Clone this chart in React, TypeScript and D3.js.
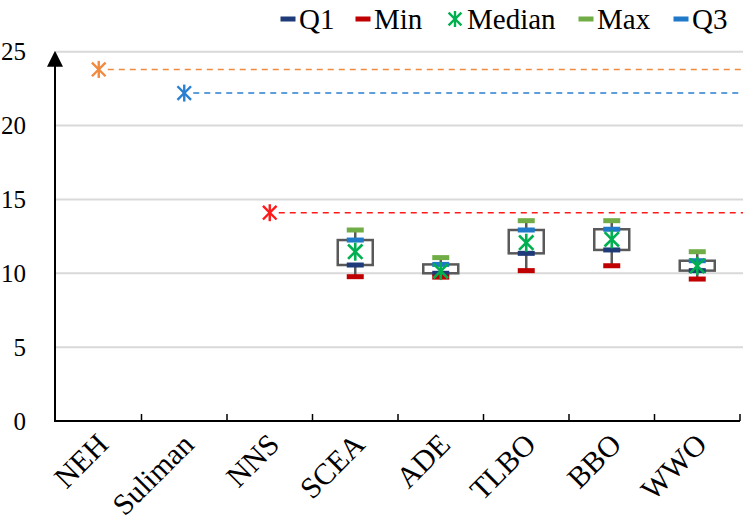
import React from "react";
import * as d3 from "d3";

const categories = ["NEH", "Suliman", "NNS", "SCEA", "ADE", "TLBO", "BBO", "WWO"];
// single-value heuristics
const singleNames = ["NEH", "Suliman", "NNS"];
const singleValues = [23.8, 22.2, 14.1];
const singleColors = ["#F08A3E", "#2A7FD0", "#FF1A1A"];
// box plot series
const boxNames = ["SCEA", "ADE", "TLBO", "BBO", "WWO"];
const minVals = [9.77, 9.74, 10.18, 10.51, 9.61];
const q1Vals = [10.56, 10.0, 11.35, 11.58, 10.18];
const medianVals = [11.46, 10.15, 12.07, 12.3, 10.5];
const q3Vals = [12.25, 10.6, 12.93, 12.98, 10.85];
const maxVals = [12.93, 11.06, 13.56, 13.56, 11.46];
const yTicks = [0, 5, 10, 15, 20, 25];

const legendItems = [
  { label: "Q1", color: "#1F3A78", kind: "dash" },
  { label: "Min", color: "#C00000", kind: "dash" },
  { label: "Median", color: "#00B050", kind: "star" },
  { label: "Max", color: "#70AD47", kind: "dash" },
  { label: "Q3", color: "#1F78C8", kind: "dash" },
];

const COL = { q1: "#1F3A78", min: "#C00000", med: "#00B050", max: "#70AD47", q3: "#1F78C8", box: "#595959" };
const FONT = "Liberation Serif, Times New Roman, serif";

function Star({ x, y, r, color, w = 2.2 }: { x: number; y: number; r: number; color: string; w?: number }) {
  const d = r * 0.8;
  return (
    <g stroke={color} strokeWidth={w}>
      <line x1={x - d} y1={y - d} x2={x + d} y2={y + d} />
      <line x1={x - d} y1={y + d} x2={x + d} y2={y - d} />
      <line x1={x} y1={y - r} x2={x} y2={y + r} />
    </g>
  );
}

function Dash({ x, y, color, w = 17, h = 5 }: { x: number; y: number; color: string; w?: number; h?: number }) {
  return <rect x={x - w / 2} y={y - h / 2} width={w} height={h} fill={color} />;
}

export default function App() {
  const W = 743, H = 528;
  const x0 = 56, x1 = 740;
  const x = d3.scaleBand<string>().domain(categories).range([x0, x1]).padding(0);
  const y = d3.scaleLinear().domain([0, 25]).range([421, 51.7]);
  const cx = (c: string) => (x(c) as number) + x.bandwidth() / 2;
  const boxW = 35;

  return (
    <svg width={W} height={H} style={{ position: "absolute", left: 0, top: 0, background: "#fff", fontFamily: FONT }}>
      {/* gridlines */}
      {yTicks.filter((t) => t > 0).map((t) => (
        <line key={t} x1={x0} x2={W} y1={y(t)} y2={y(t)} stroke="#D9D9D9" strokeWidth={2} />
      ))}
      {/* y tick labels */}
      {yTicks.map((t) => (
        <text key={t} x={26} y={y(t)} textAnchor="end" dominantBaseline="central" fontSize={25} fill="#000" style={{ fontFamily: FONT }}>
          {t}
        </text>
      ))}
      {/* dashed reference lines + stars */}
      {singleNames.map((n, i) => (
        <g key={n}>
          <line x1={cx(n) + 9} x2={W} y1={y(singleValues[i])} y2={y(singleValues[i])} stroke={singleColors[i]} strokeWidth={1.6} strokeDasharray="6,5" />
          <Star x={cx(n)} y={y(singleValues[i])} r={8.5} color={singleColors[i]} w={2.4} />
        </g>
      ))}
      {/* boxes */}
      {boxNames.map((n, i) => {
        const c = cx(n);
        return (
          <g key={n}>
            <line x1={c} x2={c} y1={y(maxVals[i])} y2={y(q3Vals[i])} stroke={COL.box} strokeWidth={2.5} />
            <line x1={c} x2={c} y1={y(q1Vals[i])} y2={y(minVals[i])} stroke={COL.box} strokeWidth={2.5} />
            <rect x={c - boxW / 2} y={y(q3Vals[i])} width={boxW} height={y(q1Vals[i]) - y(q3Vals[i])} fill="#fff" stroke={COL.box} strokeWidth={2.5} />
            <Dash x={c} y={y(q1Vals[i])} color={COL.q1} />
            <Dash x={c} y={y(minVals[i])} color={COL.min} />
            <Dash x={c} y={y(maxVals[i])} color={COL.max} />
            <Dash x={c} y={y(q3Vals[i])} color={COL.q3} />
            <Star x={c} y={y(medianVals[i])} r={9} color={COL.med} w={2.6} />
          </g>
        );
      })}
      {/* x axis */}
      <line x1={x0 - 1} x2={x1} y1={y(0)} y2={y(0)} stroke="#000" strokeWidth={2} />
      {categories.map((c) => (
        <line key={c} x1={(x(c) as number) + x.bandwidth()} x2={(x(c) as number) + x.bandwidth()} y1={y(0)} y2={y(0) - 7} stroke="#000" strokeWidth={1.5} />
      ))}
      {/* y axis with arrow */}
      <line x1={x0 - 1} x2={x0 - 1} y1={y(0) + 1} y2={y(25) + 10} stroke="#000" strokeWidth={2} />
      <path d={`M${x0 - 1},${y(25) - 1} L${x0 - 9},${y(25) + 15} L${x0 + 7},${y(25) + 15} Z`} fill="#000" />
      {/* x labels */}
      {categories.map((c) => (
        <text key={c} transform={`translate(${cx(c) - 4},${y(0) + 10}) rotate(-45)`} textAnchor="end" dominantBaseline="hanging" fontSize={30} fill="#000" style={{ fontFamily: FONT }}>
          {c}
        </text>
      ))}
      {/* legend */}
      {(() => {
        const xs = [280, 355, 448, 578, 673];
        return legendItems.map((it, i) => (
          <g key={it.label}>
            {it.kind === "dash" ? (
              <Dash x={xs[i] + 8} y={19} color={it.color} w={15} h={5} />
            ) : (
              <Star x={xs[i] + 7} y={19} r={8} color={it.color} w={2.4} />
            )}
            <text x={xs[i] + 19} y={19} dominantBaseline="central" fontSize={29} fill="#000" style={{ fontFamily: FONT }}>
              {it.label}
            </text>
          </g>
        ));
      })()}
    </svg>
  );
}
